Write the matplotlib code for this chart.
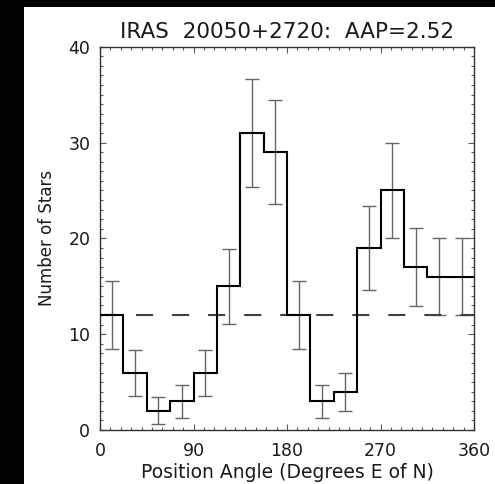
import numpy as np
import matplotlib
matplotlib.use('Agg')
from matplotlib import pyplot as plt
from matplotlib.patches import Rectangle
from matplotlib.ticker import MultipleLocator

# position angle bins (degrees E of N), 16 bins of 22.5 deg
bin_edges = [0, 22.5, 45, 67.5, 90, 112.5, 135, 157.5, 180,
             202.5, 225, 247.5, 270, 292.5, 315, 337.5, 360]
star_counts = [12, 6, 2, 3, 6, 15, 31, 29, 12, 3, 4, 19, 25, 17, 16, 16]
count_errors = [3.5, 2.4, 1.4, 1.7, 2.4, 3.9, 5.6, 5.4, 3.5, 1.7, 2.0, 4.4, 5.0, 4.1, 4.0, 4.0]
mean_level = 12
x_ticks = [0, 90, 180, 270, 360]
y_ticks = [0, 10, 20, 30, 40]
title = 'IRAS  20050+2720:  AAP=2.52'

plt.rcParams.update({
    'font.family': 'DejaVu Sans',
    'xtick.direction': 'in',
    'ytick.direction': 'in',
})

fig = plt.figure(figsize=(4.95, 4.84), dpi=100)
fig.patch.set_facecolor('white')
# black border strips of the original screenshot
fig.add_artist(Rectangle((0, 0), 24 / 495, 1, transform=fig.transFigure,
                         facecolor='black', edgecolor='none', zorder=0))
fig.add_artist(Rectangle((0, 1 - 7 / 484), 1, 7 / 484, transform=fig.transFigure,
                         facecolor='black', edgecolor='none', zorder=0))

ax = fig.add_axes([100 / 495, 54 / 484, 374 / 495, 383.3 / 484])

edges = np.array(bin_edges)
centers = (edges[:-1] + edges[1:]) / 2

ax.errorbar(centers, star_counts, yerr=count_errors, fmt='none',
            ecolor='0.4', elinewidth=1.0, capsize=4.7, capthick=1.0, zorder=2)
ax.stairs(star_counts, edges, baseline=None, color='black', linewidth=1.5, zorder=3)
ax.axhline(mean_level, color='0.25', linewidth=1.5, dashes=(8.2, 9.1), zorder=2)

ax.set_xlim(0, 360)
ax.set_ylim(0, 40)
ax.set_xticks(x_ticks)
ax.set_yticks(y_ticks)
ax.xaxis.set_minor_locator(MultipleLocator(10))
ax.yaxis.set_minor_locator(MultipleLocator(1))
ax.tick_params(which='both', top=True, right=True, color='0.35', width=0.8,
               labelsize=12.5, labelcolor='0.1')
ax.tick_params(which='major', length=4.5)
ax.tick_params(which='minor', length=2.3)
ax.tick_params(axis='x', pad=9)
ax.tick_params(axis='y', pad=7)
for sp in ax.spines.values():
    sp.set_color('0.2')
    sp.set_linewidth(1.0)

ax.set_xlabel('Position Angle (Degrees E of N)', fontsize=13.5, color='0.1', labelpad=2)
ax.set_ylabel('Number of Stars', fontsize=12, color='0.1', labelpad=9)
ax.set_title(title, fontsize=15.5, color='0.1', pad=6)

fig.savefig('out.png', dpi=100, facecolor=fig.get_facecolor())
